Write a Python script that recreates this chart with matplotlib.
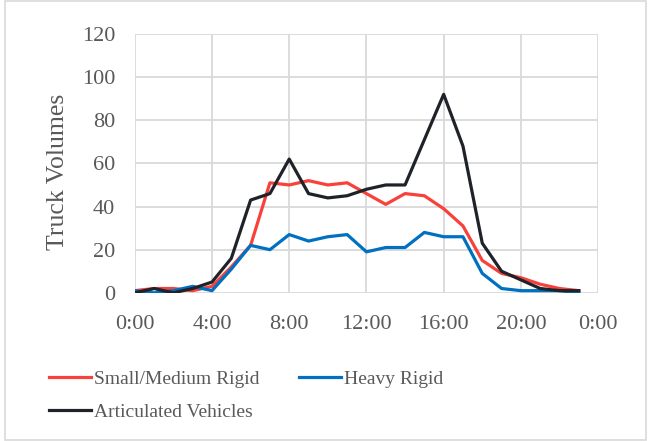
import matplotlib.pyplot as plt

hours = list(range(24))
small_medium = [1, 2, 2, 1, 3, 12, 22, 51, 50, 52, 50, 51, 46, 41, 46, 45,
                39, 31, 15, 9, 7, 4, 2, 1]
heavy = [1, 0, 1, 3, 1, 11, 22, 20, 27, 24, 26, 27, 19, 21, 21, 28,
         26, 26, 9, 2, 1, 1, 1, 0]
articulated = [0, 2, 0, 2, 5, 16, 43, 46, 62, 46, 44, 45, 48, 50, 50, 71,
               92, 68, 23, 10, 6, 2, 1, 1]
x_ticks = [0, 4, 8, 12, 16, 20, 24]
x_labels = ["0:00", "4:00", "8:00", "12:00", "16:00", "20:00", "0:00"]

plt.rcParams['font.family'] = ['Liberation Serif', 'DejaVu Serif']
text_col = "#595959"

fig = plt.figure(figsize=(6.48, 4.41), dpi=100)
ax = fig.add_axes([0.208, 0.336, 0.715, 0.587])

l1, = ax.plot(hours, small_medium, color="#F8413B", lw=2.3, label="Small/Medium Rigid")
l2, = ax.plot(hours, heavy, color="#0070C0", lw=2.3, label="Heavy Rigid")
l3, = ax.plot(hours, articulated, color="#1F2329", lw=2.3, label="Articulated Vehicles")

ax.set_xlim(0, 24)
ax.set_ylim(0, 120)
ax.set_xticks(x_ticks)
ax.set_xticklabels(x_labels)
ax.set_yticks(range(0, 121, 20))
ax.grid(True, color="#d9d9d9", lw=1.3)
ax.set_axisbelow(True)
for s in ax.spines.values():
    s.set_visible(False)
ax.tick_params(length=0, labelsize=16, colors=text_col)
ax.tick_params(axis="y", pad=14)
ax.tick_params(axis="x", pad=16)
ax.set_ylabel("Truck Volumes", fontsize=18.5, color=text_col)
ax.yaxis.set_label_coords(-0.142, 0.467)

# matplotlib fills legend columns first, so order handles to read row-wise
handles = [l1, l3, l2]
fig.legend(handles, [h.get_label() for h in handles], loc="upper left",
           bbox_to_anchor=(0.063, 0.178), ncol=2, frameon=False,
           fontsize=14, handlelength=2.2, handletextpad=0.15, columnspacing=2.0,
           labelspacing=0.8, labelcolor=text_col, borderaxespad=0)

fig.patches.append(plt.Rectangle((0.008, 0.003), 0.989, 0.994, transform=fig.transFigure,
                                 fill=False, edgecolor="#d9d9d9", lw=1.2))

fig.savefig("out.png", dpi=100)
